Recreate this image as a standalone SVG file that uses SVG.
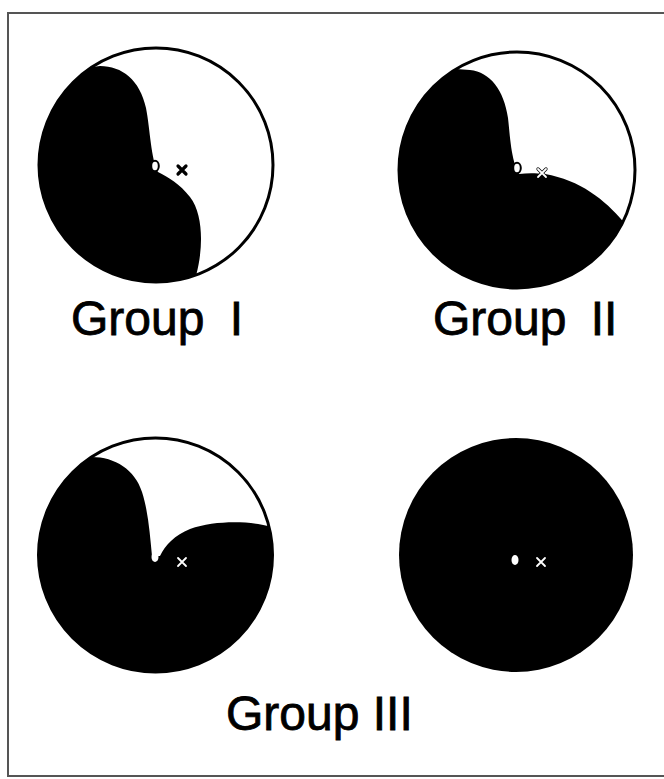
<svg xmlns="http://www.w3.org/2000/svg" width="664" height="779" viewBox="0 0 664 779">
<style>
.ring{fill:#fff;stroke:#000;stroke-width:3}
.blk{fill:#000;stroke:none}
.lbl{font-family:"Liberation Sans",Arial,Helvetica,sans-serif;font-size:48px;fill:#000;stroke:#000;stroke-width:0.8}
.ow{fill:#fff;stroke:#000;stroke-width:2}
.xb{stroke:#000;stroke-width:3.2;stroke-linecap:round;fill:none}
.xw{stroke:#fff;stroke-width:1.8;stroke-linecap:round;fill:none}
</style>
<rect x="0" y="0" width="664" height="779" fill="#fff"/>
<rect x="8" y="13" width="670" height="763" fill="none" stroke="#555" stroke-width="2"/>
<g id="connectors"/>
<g id="group-I">
<circle class="ring" cx="156" cy="165" r="117"/>
<path class="blk" d="M92.3,66.9 A117,117 0 0 0 196.2,274.9 C203,250 204,215 190,197 C180,184 168,177 158,172 C151,160 150,128 146,108 C140,80 122,66 100,66 Z"/>
<ellipse class="ow" cx="155" cy="166" rx="3.8" ry="5.2"/>
<path class="xb" d="M178,166 L186,174 M186,166 L178,174"/>
<text class="lbl" x="71" y="335" style="word-spacing:12px">Group I</text>
</g>
<g id="group-II">
<circle class="ring" cx="517" cy="170" r="118"/>
<path class="blk" d="M456.2,68.9 A118,118 0 1 0 623.2,221.5 C605,200 580,180 545,174 C535,173 527,173 519,174 C511,160 510,135 508,118 C504,90 490,72 470,70 Z"/>
<ellipse class="ow" cx="517" cy="168" rx="3.8" ry="5.2"/>
<path class="xb" d="M538,169 L546,177 M546,169 L538,177"/>
<path class="xw" d="M538,169 L546,177 M546,169 L538,177"/>
<text class="lbl" x="433" y="335" style="word-spacing:11px">Group II</text>
</g>
<g id="group-III-a">
<circle class="ring" cx="155.5" cy="555" r="117"/>
<path class="blk" d="M91.4,457.1 A117,117 0 1 0 268.9,526.3 C250,521 215,520 190,529 C175,535 165,545 160,556 L152,556 C150,535 148,510 142,492 C135,470 115,457 91.4,457.1 Z"/>
<ellipse fill="#fff" cx="155" cy="557" rx="3.5" ry="5"/>
<path class="xw" d="M178,558 L186,566 M186,558 L178,566"/>
</g>
<g id="group-III-b">
<circle fill="#000" cx="516" cy="555" r="117"/>
<ellipse fill="#fff" cx="515" cy="560" rx="3.5" ry="5"/>
<path class="xw" d="M537,558 L545,566 M545,558 L537,566"/>
</g>
<text class="lbl" x="226" y="730">Group III</text>
</svg>
